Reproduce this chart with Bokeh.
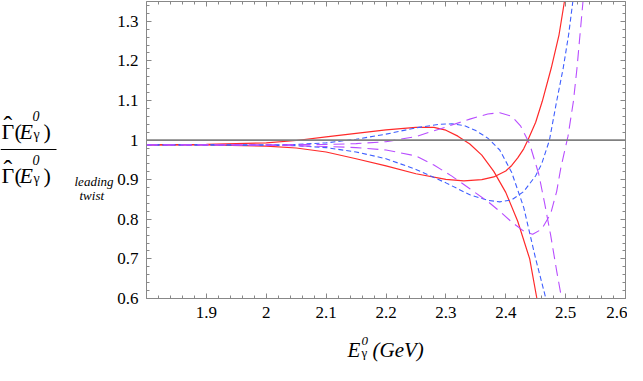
import numpy as np
from bokeh.plotting import figure
from bokeh.layouts import column, row
from bokeh.models import Range1d, LinearAxis, FixedTicker, CustomJSTickFormatter, Span
from bokeh.core.properties import value
from bokeh.embed import file_html
from bokeh.resources import INLINE

# ---- data ----
x_tick_values = [1.9, 2.0, 2.1, 2.2, 2.3, 2.4, 2.5, 2.6]
y_tick_values = [0.6, 0.7, 0.8, 0.9, 1.0, 1.1, 1.2, 1.3]
reference_level = 1.0

red_upper_x = [1.80, 1.90, 2.00, 2.05, 2.10, 2.15, 2.20, 2.25, 2.28, 2.30, 2.32, 2.34, 2.36, 2.38, 2.40, 2.42, 2.44, 2.452, 2.46]
red_upper_y = [0.988, 0.989, 0.993, 0.999, 1.008, 1.017, 1.026, 1.032, 1.032, 1.025, 1.010, 0.990, 0.962, 0.921, 0.868, 0.795, 0.700, 0.600, 0.530]

red_lower_x = [1.80, 1.90, 2.00, 2.05, 2.10, 2.15, 2.20, 2.25, 2.30, 2.33, 2.36, 2.38, 2.40, 2.41, 2.42, 2.43, 2.437, 2.45, 2.461, 2.476, 2.489, 2.498, 2.505]
red_lower_y = [0.988, 0.988, 0.985, 0.980, 0.970, 0.953, 0.935, 0.915, 0.901, 0.897, 0.900, 0.907, 0.922, 0.936, 0.955, 0.978, 1.000, 1.045, 1.098, 1.182, 1.266, 1.350, 1.420]

blue_upper_x = [1.80, 1.90, 2.00, 2.05, 2.10, 2.15, 2.20, 2.25, 2.29, 2.31, 2.33, 2.35, 2.37, 2.39, 2.41, 2.43, 2.45, 2.467, 2.475]
blue_upper_y = [0.988, 0.988, 0.988, 0.989, 0.993, 1.002, 1.015, 1.031, 1.040, 1.041, 1.037, 1.024, 1.005, 0.975, 0.918, 0.830, 0.700, 0.600, 0.530]

blue_lower_x = [1.80, 1.90, 2.00, 2.05, 2.10, 2.15, 2.20, 2.25, 2.30, 2.34, 2.37, 2.39, 2.41, 2.43, 2.45, 2.46, 2.473, 2.485, 2.496, 2.505, 2.512, 2.518]
blue_lower_y = [0.988, 0.988, 0.987, 0.986, 0.981, 0.970, 0.953, 0.926, 0.892, 0.862, 0.848, 0.844, 0.849, 0.870, 0.910, 0.940, 1.000, 1.098, 1.182, 1.266, 1.350, 1.420]

purple_upper_x = [1.80, 1.90, 2.00, 2.10, 2.15, 2.20, 2.25, 2.30, 2.34, 2.37, 2.39, 2.41, 2.425, 2.44, 2.455, 2.465, 2.475, 2.485, 2.492, 2.496]
purple_upper_y = [0.988, 0.988, 0.988, 0.989, 0.991, 0.996, 1.009, 1.033, 1.053, 1.066, 1.069, 1.060, 1.035, 0.990, 0.915, 0.840, 0.760, 0.670, 0.611, 0.570]

purple_lower_x = [1.80, 1.90, 2.00, 2.10, 2.15, 2.20, 2.25, 2.28, 2.31, 2.34, 2.37, 2.39, 2.41, 2.43, 2.445, 2.46, 2.475, 2.485, 2.492, 2.498, 2.504, 2.513, 2.519, 2.524, 2.529, 2.533]
purple_lower_y = [0.988, 0.988, 0.987, 0.984, 0.981, 0.975, 0.960, 0.937, 0.909, 0.877, 0.845, 0.820, 0.793, 0.770, 0.762, 0.775, 0.814, 0.870, 0.930, 0.970, 1.010, 1.098, 1.182, 1.266, 1.350, 1.420]

RED = "#ff2a2a"
BLUE = "#3f5fff"
PURPLE = "#b84dff"
FRAME = "#888888"
SERIF = "Liberation Serif"

TOTAL_W, TOTAL_H = 627, 365
LAB_W = 114          # width of the y-label strip
MAIN_H = 328         # height of the plot row
FRAME_TOP, FRAME_BOTTOM = 1, 298

p = figure(width=TOTAL_W - LAB_W, height=MAIN_H, x_range=Range1d(1.8, 2.6), y_range=Range1d(0.6, 1.35),
           toolbar_location=None, output_backend="svg",
           min_border_left=32, min_border_right=2, min_border_top=FRAME_TOP,
           min_border_bottom=MAIN_H - FRAME_BOTTOM)
p.grid.visible = False
p.outline_line_color = None

fmt = CustomJSTickFormatter(code="var s = tick.toFixed(1); return s.endsWith('.0') ? s.slice(0, -2) : s;")
blank = CustomJSTickFormatter(code="return '';")

x_minor = list(np.round(np.arange(1.8, 2.6001, 0.02), 2))
y_minor = list(np.round(np.arange(0.6, 1.3501, 0.02), 2))

def style(ax, ticks, minor, labels):
    ax.ticker = FixedTicker(ticks=ticks, minor_ticks=minor)
    ax.formatter = fmt if labels else blank
    ax.axis_line_color = FRAME
    ax.axis_line_width = 1
    ax.major_tick_line_color = FRAME
    ax.minor_tick_line_color = FRAME
    ax.major_tick_in = 5
    ax.major_tick_out = 0
    ax.minor_tick_in = 3
    ax.minor_tick_out = 0
    ax.major_label_text_font = SERIF
    ax.major_label_text_font_size = "17px" if labels else "0px"
    ax.major_label_text_color = "black"
    ax.major_label_standoff = 8 if labels else 0

style(p.xaxis[0], x_tick_values, x_minor, True)
style(p.yaxis[0], y_tick_values, y_minor, True)
top_ax = LinearAxis()
right_ax = LinearAxis()
style(top_ax, x_tick_values, x_minor, False)
style(right_ax, y_tick_values, y_minor, False)
p.add_layout(top_ax, "above")
p.add_layout(right_ax, "right")

p.add_layout(Span(location=reference_level, dimension="width", line_color="#808080", line_width=1.6))

p.line(red_upper_x, red_upper_y, line_color=RED, line_width=1.2)
p.line(red_lower_x, red_lower_y, line_color=RED, line_width=1.2)
p.line(blue_upper_x, blue_upper_y, line_color=BLUE, line_width=1.1, line_dash="5 3")
p.line(blue_lower_x, blue_lower_y, line_color=BLUE, line_width=1.1, line_dash="5 3")
p.line(purple_upper_x, purple_upper_y, line_color=PURPLE, line_width=1.1, line_dash="11 6")
p.line(purple_lower_x, purple_lower_y, line_color=PURPLE, line_width=1.1, line_dash="11 6")


def text_panel(w, h, y0, y1, top=0, bottom=0):
    f = figure(width=w, height=h, x_range=Range1d(0, w), y_range=Range1d(y1, y0),
               toolbar_location=None, output_backend="svg", min_border=0,
               min_border_top=top, min_border_bottom=bottom,
               x_axis_type=None, y_axis_type=None, title=None)
    f.grid.visible = False
    f.outline_line_color = None
    return f


def put(f, items, size, italic=False):
    # items: (text, left x, baseline y); drawn with a middle anchor
    f.text(x=[i[1] for i in items], y=[i[2] - 0.34 * size for i in items], text=[i[0] for i in items],
           text_font=value(SERIF), text_font_size=value(f"{size}px"),
           text_font_style="italic" if italic else "normal",
           text_baseline="middle", text_align="left", text_color="black")

# ---- y-axis label: fraction (its frame is aligned with the plot frame) ----
yl = text_panel(LAB_W, MAIN_H, FRAME_TOP, FRAME_BOTTOM, top=FRAME_TOP, bottom=MAIN_H - FRAME_BOTTOM)
num, den = 138, 182
put(yl, [("ˆ", 3, num - 4), ("ˆ", 3, den - 4)], 26)
put(yl, [("Γ", 1, num), ("(", 14, num), (")", 43, num),
         ("Γ", 1, den), ("(", 14, den), (")", 43, den)], 22)
put(yl, [("E", 19, num), ("E", 19, den)], 22, True)
put(yl, [("0", 32, num - 18), ("0", 32, den - 18)], 14, True)
put(yl, [("γ", 33, num + 1), ("γ", 33, den + 1)], 14)
put(yl, [("leading", 74, den + 3), ("twist", 79, den + 17)], 13, True)
yl.segment(x0=[0], y0=[149], x1=[56], y1=[149], line_color="black", line_width=1.2)

# ---- x-axis label ----
xl = text_panel(TOTAL_W, TOTAL_H - MAIN_H, MAIN_H, TOTAL_H)
put(xl, [("E", 347, 357), ("(GeV)", 372, 357)], 21, True)
put(xl, [("0", 361, 345)], 13, True)
put(xl, [("γ", 361, 356)], 13)

layout = column(row(yl, p, spacing=0), xl, spacing=0)
open("out.html", "w").write(file_html(layout, INLINE))
